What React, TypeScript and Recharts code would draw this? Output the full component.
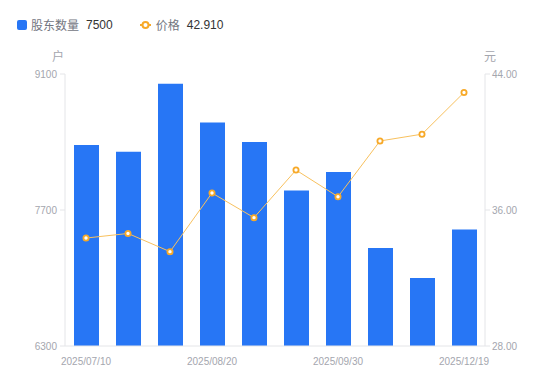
import React from 'react';
import { ComposedChart, Bar, Line, XAxis, YAxis, Legend, Label } from 'recharts';

const dates = ['2025/07/10', '2025/07/20', '2025/07/31', '2025/08/20', '2025/08/31', '2025/09/19', '2025/09/30', '2025/10/31', '2025/11/30', '2025/12/19'];
const holders = [8370, 8300, 9000, 8600, 8400, 7900, 8090, 7310, 7000, 7500];
const prices = [34.35, 34.62, 33.55, 37.0, 35.55, 38.35, 36.78, 40.06, 40.46, 42.91];
const leftTicks = [6300, 7700, 9100];
const rightTicks = [28, 36, 44];

const data = dates.map((d, i) => ({ date: d, holders: holders[i], price: prices[i] }));

const BAR = '#2776f5';
const ORANGE = '#f7a928';
const TICK = '#a4a6ae';
const AXIS = '#e4e5e8';
const FONT = 'Arial, "Liberation Sans", "Noto Sans CJK SC", sans-serif';

const LegendContent = () => (
  <div style={{ display: 'flex', alignItems: 'center', fontFamily: FONT, fontSize: 12, whiteSpace: 'nowrap' }}>
    <svg width={10} height={10} style={{ marginRight: 4 }}>
      <rect x={0} y={0} width={10} height={10} rx={2} fill={BAR} />
    </svg>
    <span style={{ color: '#73767f' }}>股东数量</span>
    <span style={{ color: '#333', marginLeft: 7 }}>{holders[holders.length - 1]}</span>
    <svg width={14} height={10} style={{ marginLeft: 27, marginRight: 2 }}>
      <line x1={0} y1={5} x2={11} y2={5} stroke={ORANGE} strokeWidth={2} />
      <circle cx={5.5} cy={5} r={3} fill="#fff" stroke={ORANGE} strokeWidth={2} />
    </svg>
    <span style={{ color: '#73767f' }}>价格</span>
    <span style={{ color: '#333', marginLeft: 7 }}>{prices[prices.length - 1].toFixed(3)}</span>
  </div>
);

export default function App() {
  return (
    <div style={{ position: 'absolute', left: 0, top: 0 }}>
      <ComposedChart
        width={550}
        height={381}
        data={data}
        margin={{ top: 74, right: 0, bottom: 15, left: 0 }}
      >
        <Legend
          layout="horizontal"
          verticalAlign="middle"
          align="center"
          content={LegendContent}
          wrapperStyle={{ position: 'absolute', top: 16, left: 17, width: 'auto', height: 'auto' }}
        />
        <XAxis
          dataKey="date"
          interval={2}
          tickLine={false}
          axisLine={{ stroke: AXIS }}
          tick={{ fill: TICK, fontSize: 10, fontFamily: FONT }}
          tickMargin={6}
          height={20}
        />
        <YAxis
          yAxisId="left"
          orientation="left"
          width={65}
          domain={[6300, 9100]}
          ticks={leftTicks}
          interval={0}
          tickSize={5}
          tickMargin={3}
          tickLine={{ stroke: AXIS }}
          axisLine={{ stroke: AXIS }}
          tick={{ fill: TICK, fontSize: 10, fontFamily: FONT }}
        >
          <Label
            content={(props: any) => {
              const vb = props.viewBox || {};
              return (
                <text x={vb.x + vb.width - 7} y={vb.y - 13} textAnchor="middle" fill={TICK} fontSize={12} fontFamily={FONT}>
                  户
                </text>
              );
            }}
          />
        </YAxis>
        <YAxis
          yAxisId="right"
          orientation="right"
          width={65}
          domain={[28, 44]}
          ticks={rightTicks}
          interval={0}
          tickSize={5}
          tickMargin={2}
          tickLine={{ stroke: AXIS }}
          axisLine={{ stroke: AXIS }}
          tickFormatter={(v: number) => v.toFixed(2)}
          tick={{ fill: TICK, fontSize: 10, fontFamily: FONT }}
        >
          <Label
            content={(props: any) => {
              const vb = props.viewBox || {};
              return (
                <text x={vb.x + 5} y={vb.y - 13} textAnchor="middle" fill={TICK} fontSize={12} fontFamily={FONT}>
                  元
                </text>
              );
            }}
          />
        </YAxis>
        <Bar yAxisId="left" dataKey="holders" fill={BAR} barSize={25} isAnimationActive={false} />
        <Line
          yAxisId="right"
          type="linear"
          dataKey="price"
          stroke="#f8c15e"
          strokeWidth={1}
          dot={{ r: 2.6, fill: '#fff', stroke: ORANGE, strokeWidth: 1.8 }}
          activeDot={false}
          isAnimationActive={false}
        />
      </ComposedChart>
    </div>
  );
}
